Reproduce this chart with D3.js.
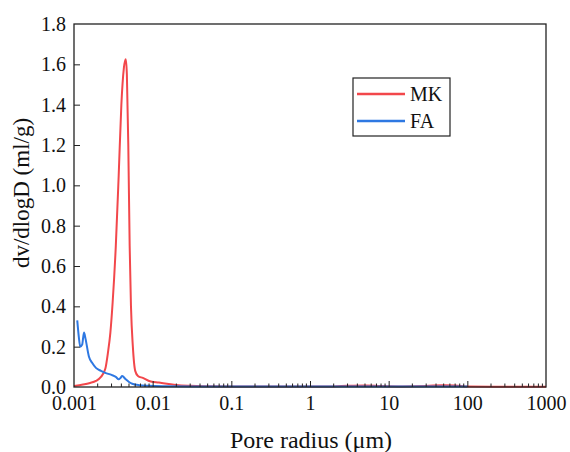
<!doctype html>
<html>
<head>
<script src="https://d3js.org/d3.v7.min.js"></script>
<style>
  body { margin: 0; background: #fff; }
  text { font-family: "Liberation Serif", "Times New Roman", serif; fill: #111; }
</style>
</head>
<body>
<svg width="570" height="452"></svg>
<script>
// pore radius (um) / dv/dlogD (ml/g)
var mkX = [0.001, 0.0013, 0.0016, 0.0019, 0.0022, 0.0025, 0.0027, 0.0029, 0.0031, 0.0034, 0.0037, 0.0040, 0.0043, 0.00455, 0.0047, 0.0049, 0.0051, 0.0053, 0.0056, 0.006, 0.0065, 0.0075, 0.009, 0.012, 0.016, 0.02, 0.03, 0.05, 0.1, 0.5, 1, 2, 3, 5, 8, 15, 30, 50, 70, 100, 200, 1000];
var mkY = [0.005, 0.012, 0.02, 0.03, 0.05, 0.09, 0.17, 0.27, 0.42, 0.7, 1.05, 1.40, 1.58, 1.625, 1.55, 1.2, 0.7, 0.4, 0.2, 0.08, 0.055, 0.045, 0.03, 0.022, 0.015, 0.01, 0.006, 0.004, 0.003, 0.002, 0.002, 0.003, 0.006, 0.008, 0.005, 0.003, 0.005, 0.009, 0.008, 0.002, 0.001, 0.001];
var faX = [0.0011, 0.00115, 0.0012, 0.00127, 0.00134, 0.0014, 0.00155, 0.0017, 0.0019, 0.0022, 0.0025, 0.003, 0.0034, 0.0037, 0.0039, 0.0041, 0.0045, 0.005, 0.0055, 0.0067, 0.009, 0.015, 0.03, 0.1, 1, 10, 100];
var faY = [0.33, 0.25, 0.2, 0.21, 0.27, 0.24, 0.15, 0.12, 0.095, 0.08, 0.07, 0.06, 0.05, 0.038, 0.045, 0.054, 0.04, 0.025, 0.016, 0.009, 0.006, 0.004, 0.003, 0.002, 0.002, 0.002, 0.002];
var xTicks = [0.001, 0.01, 0.1, 1, 10, 100, 1000];
var xTickLabels = ["0.001", "0.01", "0.1", "1", "10", "100", "1000"];
var yTicks = [0, 0.2, 0.4, 0.6, 0.8, 1.0, 1.2, 1.4, 1.6, 1.8];

var series = [
  { name: "MK", color: "#f2474b", xs: mkX, ys: mkY },
  { name: "FA", color: "#2e78e2", xs: faX, ys: faY }
];

var svg = d3.select("svg");
var pl = 74, pr = 546, pt = 24, pb = 387;

var x = d3.scaleLog().domain([0.001, 1000]).range([pl, pr]);
var y = d3.scaleLinear().domain([0, 1.8]).range([pb, pt]);

// minor ticks 2..9 each decade
var minor = [];
xTicks.slice(0, -1).forEach(function(d) {
  for (var k = 2; k <= 9; k++) minor.push(d * k);
});

// series lines (under the axes)
var line = d3.line()
  .x(function(d) { return x(d[0]); })
  .y(function(d) { return y(d[1]); })
  .curve(d3.curveMonotoneX);

series.forEach(function(s) {
  svg.append("path")
    .datum(s.xs.map(function(v, i) { return [v, s.ys[i]]; }))
    .attr("fill", "none")
    .attr("stroke", s.color)
    .attr("stroke-width", 2)
    .attr("d", line);
});

// frame
svg.append("rect")
  .attr("x", pl).attr("y", pt)
  .attr("width", pr - pl).attr("height", pb - pt)
  .attr("fill", "none").attr("stroke", "#222").attr("stroke-width", 1.3);

// x axis
var gx = svg.append("g").attr("transform", "translate(0," + pb + ")");
gx.call(d3.axisBottom(x).tickValues(xTicks)
    .tickFormat(function(d, i) { return xTickLabels[i]; })
    .tickSizeInner(-6).tickSizeOuter(0).tickPadding(9));
gx.selectAll(".tick").filter(function(d){ return d === 0.001 || d === 1000; }).select("line").remove();
gx.select(".domain").remove();
gx.selectAll(".minor").data(minor).enter().append("line")
  .attr("x1", function(d) { return x(d); }).attr("x2", function(d) { return x(d); })
  .attr("y1", 0).attr("y2", -3.5)
  .attr("stroke", "#222");
gx.selectAll("text").attr("font-size", 20).attr("font-family", "Liberation Serif").attr("fill", "#111");
gx.selectAll("line").attr("stroke", "#222");

// y axis
var gy = svg.append("g").attr("transform", "translate(" + pl + ",0)");
gy.call(d3.axisLeft(y).tickValues(yTicks)
    .tickFormat(d3.format(".1f"))
    .tickSizeInner(-6).tickSizeOuter(0).tickPadding(8));
gy.select(".domain").remove();
gy.selectAll(".tick").filter(function(d){ return d === 0 || d === 1.8; }).select("line").remove();
gy.selectAll("text").attr("font-size", 20).attr("font-family", "Liberation Serif").attr("fill", "#111");
gy.selectAll("line").attr("stroke", "#222");

// axis titles
svg.append("text")
  .attr("x", 311).attr("y", 448)
  .attr("text-anchor", "middle").attr("font-size", 24)
  .text("Pore radius (\u03bcm)");
svg.append("text")
  .attr("transform", "translate(29,193) rotate(-90)")
  .attr("text-anchor", "middle").attr("font-size", 23)
  .text("dv/dlogD (ml/g)");

// legend
var lg = svg.append("g");
lg.append("rect")
  .attr("x", 353).attr("y", 78).attr("width", 97).attr("height", 58)
  .attr("fill", "#fff").attr("stroke", "#222").attr("stroke-width", 1.2);
series.forEach(function(s, i) {
  var yy = 94 + i * 27;
  lg.append("line")
    .attr("x1", 357).attr("x2", 405).attr("y1", yy).attr("y2", yy)
    .attr("stroke", s.color).attr("stroke-width", 2.5);
  lg.append("text")
    .attr("x", 410).attr("y", yy + 7).attr("font-size", 20)
    .text(s.name);
});
</script>
</body>
</html>
